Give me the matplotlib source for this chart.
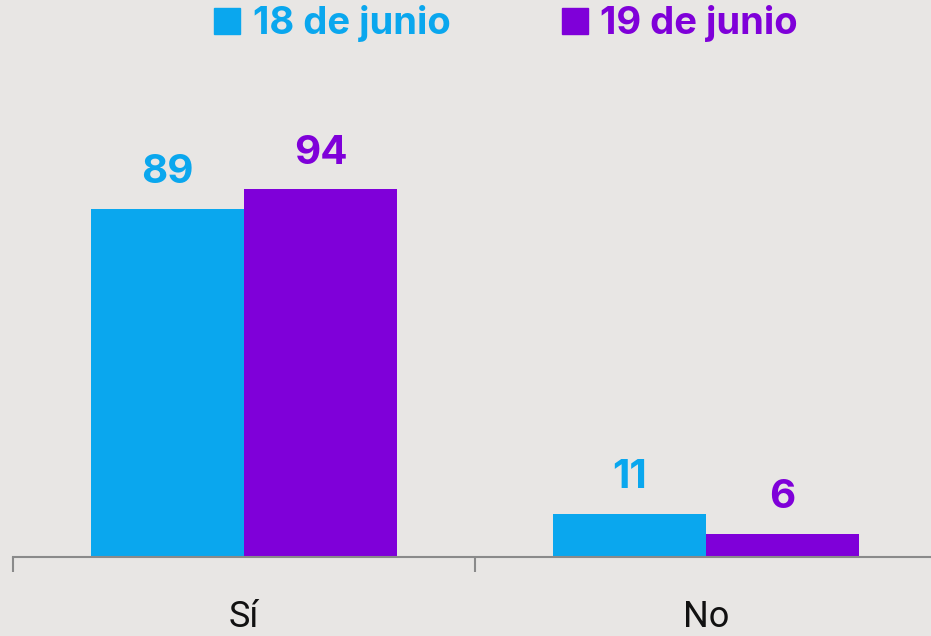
import matplotlib.pyplot as plt
import numpy as np
from matplotlib.lines import Line2D

# Data
categories = ['Sí', 'No']
series_names = ['18 de junio', '19 de junio']
values_18 = [89, 11]
values_19 = [94, 6]
colors = ['#0AA7EE', '#7F00D9']

bg = '#E8E6E4'
fig = plt.figure(figsize=(9.31, 6.36), dpi=100, facecolor=bg)
ax = fig.add_axes([13 / 931, 1 - 557 / 636, 924 / 931, 391 / 636])
ax.set_facecolor(bg)

x = np.arange(len(categories))
w = 0.332
bars1 = ax.bar(x - w / 2, values_18, w, color=colors[0])
bars2 = ax.bar(x + w / 2, values_19, w, color=colors[1])

for bars, vals, c in [(bars1, values_18, colors[0]), (bars2, values_19, colors[1])]:
    for b, v in zip(bars, vals):
        ax.annotate(str(v), (b.get_x() + b.get_width() / 2, b.get_height()),
                    xytext=(0, 18.5), textcoords='offset points', ha='center', va='baseline',
                    fontsize=29, fontweight='bold', family='Inter', color=c,
                    annotation_clip=False)

ax.set_xlim(-0.5, 1.5)
ax.set_ylim(0, 100)
ax.set_yticks([])
for s in ['left', 'right', 'top']:
    ax.spines[s].set_visible(False)
ax.spines['bottom'].set_color('#8A8A8A')
ax.spines['bottom'].set_linewidth(1.5)

ax.set_xticks(x)
ax.set_xticklabels(categories, fontsize=26, family='Roboto', color='#111111')
ax.tick_params(axis='x', which='major', length=0, pad=30)
ax.set_xticks([-0.5, 0.5, 1.5], minor=True)
ax.tick_params(axis='x', which='minor', length=11, width=1.5, color='#8A8A8A')

handles = [Line2D([], [], marker='s', linestyle='none', markersize=18.5,
                  markerfacecolor=c, markeredgecolor=c) for c in colors]
leg = fig.legend(handles, series_names, loc='center', bbox_to_anchor=(503 / 931, 1 - 24 / 636),
                 ncol=2, frameon=False, handletextpad=0.17, columnspacing=2.75,
                 handlelength=1.0, borderpad=0, borderaxespad=0,
                 prop={'family': 'Inter', 'weight': 'bold', 'size': 27.5})
for t, c in zip(leg.get_texts(), colors):
    t.set_color(c)

fig.savefig('out.png', dpi=100, facecolor=bg)
